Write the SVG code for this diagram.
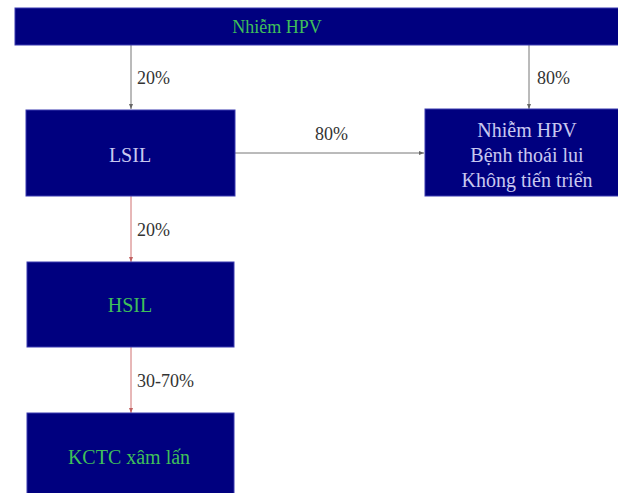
<svg xmlns="http://www.w3.org/2000/svg" width="618" height="493" viewBox="0 0 618 493">
<style>
.box{fill:#00007f;stroke:#3a3ab0;stroke-width:1}
.t{font-family:'Liberation Serif','DejaVu Serif',serif;text-anchor:middle;dominant-baseline:central}
.g{fill:#3fbf5a}
.w{fill:#c8c8f0}
.lbl{font-family:'Liberation Serif','DejaVu Serif',serif;font-size:18px;fill:#333;dominant-baseline:central}
.c{fill:none;stroke:#777;stroke-width:1}
.r{fill:none;stroke:#d07070;stroke-width:1}
</style>
<defs>
<marker id="ah" markerWidth="6" markerHeight="6" refX="5" refY="3" orient="auto" markerUnits="userSpaceOnUse">
<path d="M0,1 L5,3 L0,5 Z" fill="#666"/>
</marker>
<marker id="ahr" markerWidth="6" markerHeight="6" refX="5" refY="3" orient="auto" markerUnits="userSpaceOnUse">
<path d="M0,1 L5,3 L0,5 Z" fill="#c06060"/>
</marker>
</defs>
<rect width="618" height="493" fill="#ffffff"/>
<g id="connectors">
<line class="c" x1="131" y1="45" x2="131" y2="109" marker-end="url(#ah)"/>
<line class="c" x1="529" y1="45" x2="529" y2="109" marker-end="url(#ah)"/>
<line class="c" x1="235" y1="153" x2="424" y2="153" marker-end="url(#ah)"/>
<line class="r" x1="131" y1="196" x2="131" y2="262" marker-end="url(#ahr)"/>
<line class="r" x1="131" y1="347" x2="131" y2="413" marker-end="url(#ahr)"/>
<text class="lbl" x="137" y="78">20%</text>
<text class="lbl" x="537" y="78">80%</text>
<text class="lbl" x="315" y="134">80%</text>
<text class="lbl" x="137" y="230">20%</text>
<text class="lbl" x="137" y="381">30-70%</text>
</g>
<g id="top">
<rect class="box" x="15" y="8" width="610" height="37"/>
<text class="t g" x="277" y="27" font-size="18">Nhiễm HPV</text>
</g>
<g id="lsil">
<rect class="box" x="26" y="110" width="209" height="86"/>
<text class="t w" x="130" y="155" font-size="20">LSIL</text>
</g>
<g id="regress">
<rect class="box" x="425" y="109" width="200" height="87"/>
<text class="t w" x="527" y="130" font-size="20">Nhiễm HPV</text>
<text class="t w" x="527" y="155" font-size="20">Bệnh thoái lui</text>
<text class="t w" x="527" y="180" font-size="20">Không tiến triển</text>
</g>
<g id="hsil">
<rect class="box" x="27" y="262" width="207" height="85"/>
<text class="t g" x="130" y="305" font-size="20">HSIL</text>
</g>
<g id="kctc">
<rect class="box" x="27" y="413" width="207" height="90"/>
<text class="t g" x="129" y="457" font-size="20">KCTC xâm lấn</text>
</g>
</svg>
